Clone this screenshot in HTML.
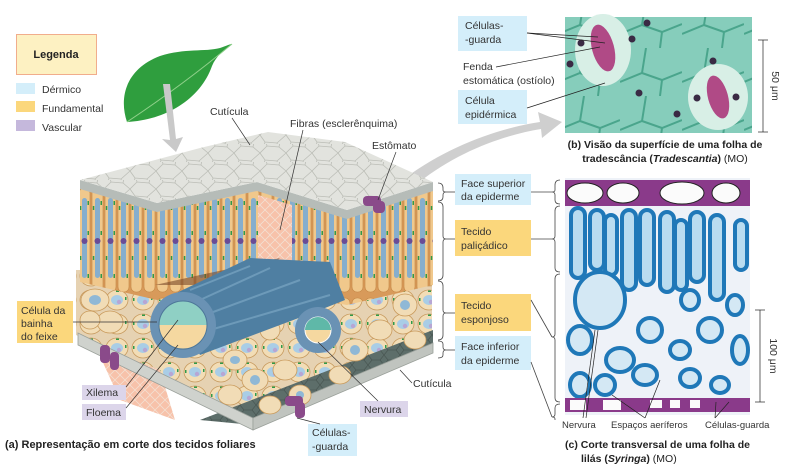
<!DOCTYPE html>
<html><head><meta charset="utf-8"><style>
html,body{margin:0;padding:0;background:#fff;}
svg{display:block;font-family:"Liberation Sans",sans-serif;}
</style></head><body>
<svg width="800" height="471" viewBox="0 0 800 471" xmlns="http://www.w3.org/2000/svg">
<defs>
<pattern id="cells" width="26" height="18" patternUnits="userSpaceOnUse">
<rect width="26" height="18" fill="#e2e3de"/>
<path d="M0 9 L7 2 L19 3 L26 9 M7 2 L6 -2 M19 3 L20 -2 M0 9 L5 16 L17 17 L26 9 M5 16 L4 20 M17 17 L18 20" stroke="#bcbeb7" stroke-width="0.8" fill="none"/>
</pattern>
<pattern id="pali" x="0" y="186" width="13" height="110" patternUnits="userSpaceOnUse">
<rect width="13" height="110" fill="#d89a5a"/>
<rect x="1" y="2" width="11" height="104" rx="5" fill="#f0c88c" stroke="#c38442" stroke-width="0.6"/>
<rect x="4" y="12" width="5" height="80" rx="2.5" fill="#86aecd"/>
<circle cx="6.5" cy="55" r="3" fill="#6a4c96"/>
<rect x="1.8" y="20" width="1.5" height="4" fill="#2f9a4a"/><rect x="9.5" y="45" width="1.5" height="4" fill="#2f9a4a"/><rect x="9.5" y="15" width="1.5" height="4" fill="#2f9a4a"/><rect x="1.8" y="70" width="1.5" height="4" fill="#2f9a4a"/><rect x="9.5" y="88" width="1.5" height="4" fill="#2f9a4a"/>
</pattern>
<pattern id="spong" width="26" height="24" patternUnits="userSpaceOnUse">
<rect width="26" height="24" fill="#e6d2b2"/>
<ellipse cx="13" cy="12" rx="11" ry="10" fill="#f2ddb6" stroke="#c79a5e" stroke-width="0.8"/>
<ellipse cx="13" cy="12" rx="6" ry="5" fill="#a9cde6"/>
<circle cx="15" cy="14" r="2.2" fill="#b7a6d4"/>
<rect x="3" y="10" width="1.5" height="3" fill="#2f9a4a"/><rect x="21" y="9" width="1.5" height="3" fill="#2f9a4a"/><rect x="12" y="2.5" width="3" height="1.5" fill="#2f9a4a"/>
</pattern>
<pattern id="lowep" width="16" height="10" patternUnits="userSpaceOnUse">
<rect width="16" height="10" fill="#5d6e6a"/>
<path d="M0 5 L4 0 L12 0 L16 5 L12 10 L4 10 Z" fill="none" stroke="#4a5854" stroke-width="0.8"/>
</pattern>
<pattern id="fib" width="10" height="10" patternUnits="userSpaceOnUse">
<rect width="10" height="10" fill="#f7c2aa"/>
<path d="M0 5 L5 0 L10 5 L5 10 Z" fill="none" stroke="#f4e0d2" stroke-width="0.8"/>
</pattern>
<pattern id="mb" width="62" height="48" patternUnits="userSpaceOnUse">
<rect width="62" height="48" fill="#86cdbb"/>
<path d="M0 34 L22 25 L42 32 L62 24 M22 25 L26 0 M42 32 L40 48" stroke="#4aa58c" stroke-width="2" fill="none"/>
</pattern>
</defs>

<rect x="16.5" y="34.5" width="80" height="40" fill="#fdf1c2" stroke="#f1ad8c" stroke-width="1"/>
<text x="56" y="58" font-size="11" font-weight="bold" text-anchor="middle" fill="#222">Legenda</text>
<rect x="16" y="83" width="19" height="11" fill="#d4eefa"/>
<rect x="16" y="101" width="19" height="11" fill="#fbd77c"/>
<rect x="16" y="120" width="19" height="11" fill="#c5b8dc"/>
<text x="42" y="93" font-size="10.5" fill="#333">Dérmico</text>
<text x="42" y="112" font-size="10.5" fill="#333">Fundamental</text>
<text x="42" y="131" font-size="10.5" fill="#333">Vascular</text>

<path d="M127 122 C118 95 128 68 160 56 C185 48 205 52 220 48 C226 46 230 44 232 44 C224 50 216 56 212 66 C200 100 165 120 127 122 Z" fill="#2f9e3e"/>
<path d="M127 122 C160 100 195 75 232 44" stroke="#8fd08a" stroke-width="1" fill="none"/>
<path d="M163 84 L170 140 L162 139 L176 152 L183 137 L176 139 L170 84 Z" fill="#c9c9c9"/>
<path d="M405 178 C450 145 500 128 540 122 L538 112 L562 122 L542 138 L541 129 C505 135 460 150 418 183 Z" fill="#cfcfcf"/>

<polygon points="76,270 432,270 432,345 253,418 76,335" fill="url(#spong)"/>
<polygon points="80,186 157,206 257,188 257,282 157,300 80,282" fill="url(#pali)"/>
<polygon points="257,190 347,216 433,190 433,285 347,305 257,290" fill="url(#pali)"/>
<polygon points="258,195 292,205 292,265 258,260" fill="url(#fib)"/>
<polygon points="95,345 160,370 175,420 120,400" fill="url(#fib)"/>
<path d="M155 285 L200 275 L280 258 L250 285 Z" fill="#7a4a2a" opacity="0.6"/>
<polygon points="200,420 433,330 433,348 253,425" fill="url(#lowep)"/>
<polygon points="78,333 253,418 253,430 78,345" fill="#cfd2cd" stroke="#9aa09a" stroke-width="0.8"/>
<polygon points="253,418 433,343 433,353 253,430" fill="#c0c4bf" stroke="#9aa09a" stroke-width="0.8"/>
<g fill="#f1dcb6" stroke="#c99a5c" stroke-width="0.8">
<ellipse cx="95" cy="300" rx="14" ry="11"/><ellipse cx="110" cy="322" rx="13" ry="11"/><ellipse cx="90" cy="320" rx="10" ry="9"/>
<ellipse cx="235" cy="360" rx="12" ry="10"/><ellipse cx="255" cy="380" rx="13" ry="11"/><ellipse cx="230" cy="395" rx="12" ry="10"/>
<ellipse cx="270" cy="405" rx="11" ry="9"/><ellipse cx="285" cy="370" rx="12" ry="10"/><ellipse cx="300" cy="395" rx="11" ry="10"/>
<ellipse cx="355" cy="350" rx="13" ry="11"/><ellipse cx="380" cy="330" rx="12" ry="10"/><ellipse cx="405" cy="305" rx="12" ry="11"/>
<ellipse cx="415" cy="340" rx="11" ry="9"/><ellipse cx="340" cy="375" rx="11" ry="9"/><ellipse cx="270" cy="330" rx="10" ry="10"/>
</g>
<g fill="#8fb8d6"><ellipse cx="235" cy="360" rx="5" ry="4"/><ellipse cx="255" cy="380" rx="5" ry="5"/><ellipse cx="355" cy="350" rx="5" ry="5"/><ellipse cx="405" cy="305" rx="5" ry="5"/><ellipse cx="95" cy="300" rx="6" ry="5"/><ellipse cx="300" cy="395" rx="4" ry="4"/></g>
<path d="M168 297 L250 258 L330 262 L345 300 L320 310 L200 355 Z" fill="#4f7fa2"/>
<path d="M200 300 L270 268 M205 315 L300 280 M210 330 L330 295 M190 290 L250 266" stroke="#6d9ab9" stroke-width="2" fill="none"/>
<circle cx="183" cy="325" r="33" fill="#6a92b4"/>
<circle cx="183" cy="325" r="24" fill="#f5d8a0"/>
<path d="M159 325 A24 24 0 0 1 207 325 Z" fill="#8fd0c4"/>
<circle cx="183" cy="325" r="24" fill="none" stroke="#4d7799" stroke-width="1"/>
<circle cx="318" cy="330" r="23" fill="#6a92b4"/>
<circle cx="318" cy="330" r="13" fill="#f5d8a0" stroke="#fff" stroke-width="1"/>
<path d="M305 330 A13 13 0 0 1 331 330 Z" fill="#5fb8a8"/>
<polygon points="80,180 157,203 257,182 257,191 157,212 80,189" fill="#b6bcb8"/>
<polygon points="257,182 347,210 433,182 433,191 347,219 257,191" fill="#b6bcb8"/>
<polygon points="80,180 200,148 268,132 345,142 433,182 347,210 257,182 157,203" fill="url(#cells)"/>
<g fill="#8a4a8a"><rect x="363" y="196" width="18" height="10" rx="4"/><rect x="373" y="201" width="12" height="12" rx="4"/>
<rect x="100" y="345" width="10" height="18" rx="4"/><rect x="110" y="352" width="9" height="18" rx="4"/>
<rect x="285" y="396" width="18" height="10" rx="4"/><rect x="295" y="402" width="10" height="16" rx="4"/></g>

<text x="210" y="115" font-size="10.5" fill="#333">Cutícula</text>
<line x1="232" y1="118" x2="250" y2="145" stroke="#333" stroke-width="0.7"/>
<text x="290" y="127" font-size="10.5" fill="#333">Fibras (esclerênquima)</text>
<line x1="303" y1="130" x2="280" y2="230" stroke="#333" stroke-width="0.7"/>
<text x="372" y="149" font-size="10.5" fill="#333">Estômato</text>
<line x1="396" y1="152" x2="378" y2="200" stroke="#333" stroke-width="0.7"/>

<rect x="17" y="301" width="56" height="42" fill="#fbd77c"/>
<text font-size="10.5" fill="#333"><tspan x="21" y="314">Célula da</tspan><tspan x="21" y="327">bainha</tspan><tspan x="21" y="340">do feixe</tspan></text>
<line x1="73" y1="322" x2="157" y2="322" stroke="#333" stroke-width="0.7"/>
<rect x="82" y="385" width="44" height="15" fill="#dcd5ea"/>
<text x="86" y="396" font-size="10.5" fill="#333">Xilema</text>
<rect x="82" y="404" width="44" height="16" fill="#dcd5ea"/>
<text x="86" y="416" font-size="10.5" fill="#333">Floema</text>
<line x1="126" y1="387" x2="178" y2="320" stroke="#333" stroke-width="0.7"/>
<line x1="126" y1="408" x2="178" y2="345" stroke="#333" stroke-width="0.7"/>
<rect x="360" y="401" width="48" height="16" fill="#dcd5ea"/>
<text x="364" y="413" font-size="10.5" fill="#333">Nervura</text>
<line x1="378" y1="401" x2="318" y2="342" stroke="#333" stroke-width="0.7"/>
<rect x="308" y="424" width="49" height="32" fill="#d4eefa"/>
<text font-size="10.5" fill="#333"><tspan x="312" y="436">Células-</tspan><tspan x="312" y="450">-guarda</tspan></text>
<line x1="297" y1="418" x2="320" y2="424" stroke="#333" stroke-width="0.7"/>
<text x="413" y="387" font-size="10.5" fill="#333">Cutícula</text>
<line x1="412" y1="383" x2="400" y2="370" stroke="#333" stroke-width="0.7"/>
<text x="5" y="448" font-size="11" font-weight="bold" fill="#222">(a) Representação em corte dos tecidos foliares</text>

<rect x="455" y="174" width="76" height="31" fill="#d4eefa"/>
<text font-size="10.5" fill="#333"><tspan x="461" y="187">Face superior</tspan><tspan x="461" y="200">da epiderme</tspan></text>
<rect x="455" y="220" width="76" height="36" fill="#fbd77c"/>
<text font-size="10.5" fill="#333"><tspan x="461" y="235">Tecido</tspan><tspan x="461" y="249">paliçádico</tspan></text>
<rect x="455" y="294" width="76" height="37" fill="#fbd77c"/>
<text font-size="10.5" fill="#333"><tspan x="461" y="309">Tecido</tspan><tspan x="461" y="323">esponjoso</tspan></text>
<rect x="455" y="336" width="76" height="34" fill="#d4eefa"/>
<text font-size="10.5" fill="#333"><tspan x="461" y="350">Face inferior</tspan><tspan x="461" y="364">da epiderme</tspan></text>
<g stroke="#444" stroke-width="0.8" fill="none">
<path d="M438 183 Q443 183 443 188 L443 190 Q443 192 446 192 Q443 192 443 195 L443 197 Q443 201 438 201"/>
<path d="M438 202 Q443 202 443 207 L443 236 Q443 239 446 239 Q443 239 443 242 L443 275 Q443 280 438 280"/>
<path d="M438 281 Q443 281 443 286 L443 310 Q443 313 446 313 Q443 313 443 316 L443 335 Q443 340 438 340"/>
<path d="M438 341 Q443 341 443 344 L443 347 Q443 350 446 350 Q443 350 443 353 L443 355 Q443 358 438 358"/>
<line x1="446" y1="192" x2="455" y2="192"/><line x1="446" y1="239" x2="455" y2="239"/><line x1="446" y1="313" x2="455" y2="313"/><line x1="446" y1="350" x2="455" y2="350"/>
<path d="M560 180 Q555 180 555 185 L555 190 Q555 192 552 192 Q555 192 555 195 L555 200 Q555 204 560 204"/>
<path d="M560 206 Q555 206 555 211 L555 236 Q555 239 552 239 Q555 239 555 242 L555 268 Q555 272 560 272"/>
<path d="M560 274 Q555 274 555 279 L555 334 Q555 337 552 337 Q555 337 555 340 L555 398 Q555 402 560 402"/>
<path d="M560 404 Q555 404 555 408 L555 414 Q555 417 552 417 Q555 417 555 419 L555 420"/>
<line x1="531" y1="192" x2="552" y2="192"/><line x1="531" y1="239" x2="552" y2="239"/>
<line x1="531" y1="300" x2="552" y2="337"/><line x1="531" y1="362" x2="552" y2="417"/>
</g>

<rect x="565" y="17" width="187" height="116" fill="url(#mb)"/>
<ellipse cx="603" cy="50" rx="28" ry="36" fill="#d8efe6"/>
<ellipse cx="603" cy="48" rx="11" ry="24" fill="#b04a86" transform="rotate(-15 603 48)"/>
<ellipse cx="718" cy="97" rx="30" ry="33" fill="#d8efe6"/>
<ellipse cx="718" cy="97" rx="10" ry="22" fill="#b04a86" transform="rotate(-15 718 97)"/>
<g fill="#3a2a44"><circle cx="581" cy="43" r="3.5"/><circle cx="632" cy="39" r="3.5"/><circle cx="647" cy="23" r="3.5"/><circle cx="570" cy="64" r="3.5"/><circle cx="639" cy="93" r="3.5"/><circle cx="713" cy="61" r="3.5"/><circle cx="697" cy="98" r="3.5"/><circle cx="736" cy="97" r="3.5"/><circle cx="677" cy="114" r="3.5"/></g>
<rect x="458" y="16" width="69" height="35" fill="#d4eefa"/>
<text font-size="10.5" fill="#333"><tspan x="465" y="29">Células-</tspan><tspan x="465" y="43">-guarda</tspan></text>
<text font-size="10.5" fill="#333"><tspan x="463" y="70">Fenda</tspan><tspan x="463" y="84">estomática (ostíolo)</tspan></text>
<rect x="458" y="90" width="69" height="34" fill="#d4eefa"/>
<text font-size="10.5" fill="#333"><tspan x="465" y="104">Célula</tspan><tspan x="465" y="118">epidérmica</tspan></text>
<g stroke="#222" stroke-width="0.7" fill="none"><line x1="527" y1="33" x2="598" y2="37"/><line x1="527" y1="33" x2="605" y2="43"/><line x1="496" y1="67" x2="600" y2="47"/><line x1="527" y1="108" x2="605" y2="83"/>
<line x1="763" y1="40" x2="763" y2="132"/><line x1="758" y1="40" x2="768" y2="40"/><line x1="758" y1="132" x2="768" y2="132"/>
<line x1="760" y1="310" x2="760" y2="402"/><line x1="755" y1="310" x2="765" y2="310"/><line x1="755" y1="402" x2="765" y2="402"/></g>
<text x="772" y="86" font-size="10.5" fill="#333" transform="rotate(90 772 86)" text-anchor="middle">50 μm</text>
<text x="770" y="356" font-size="10.5" fill="#333" transform="rotate(90 770 356)" text-anchor="middle">100 μm</text>
<text x="665" y="148" font-size="10.5" font-weight="bold" fill="#222" text-anchor="middle">(b) Visão da superfície de uma folha de</text>
<text x="665" y="162" font-size="10.5" font-weight="bold" fill="#222" text-anchor="middle">tradescância (<tspan font-style="italic">Tradescantia</tspan>) <tspan font-weight="normal">(MO)</tspan></text>

<rect x="565" y="178" width="185" height="237" fill="#eef2f8"/>
<rect x="565" y="180" width="185" height="26" fill="#8a3a8a"/>
<g fill="#fbfbfb" stroke="#222" stroke-width="1"><ellipse cx="585" cy="193" rx="18" ry="10"/><ellipse cx="623" cy="193" rx="16" ry="10"/><ellipse cx="682" cy="193" rx="22" ry="11"/><ellipse cx="726" cy="193" rx="14" ry="10"/></g>
<g fill="#b9dcf0" stroke="#1f78b8" stroke-width="4">
<rect x="571" y="208" width="14" height="70" rx="7"/><rect x="590" y="210" width="14" height="60" rx="7"/><rect x="622" y="210" width="14" height="80" rx="7"/><rect x="640" y="210" width="14" height="75" rx="7"/><rect x="660" y="212" width="14" height="80" rx="7"/><rect x="690" y="212" width="14" height="70" rx="7"/><rect x="710" y="215" width="14" height="85" rx="7"/><rect x="735" y="220" width="12" height="50" rx="6"/>
<rect x="605" y="215" width="12" height="60" rx="6"/><rect x="675" y="220" width="12" height="70" rx="6"/>
</g>
<g fill="#d4e8f4" stroke="#1f78b8" stroke-width="4">
<ellipse cx="600" cy="300" rx="25" ry="28"/><ellipse cx="580" cy="340" rx="12" ry="14"/><ellipse cx="620" cy="360" rx="14" ry="12"/><ellipse cx="650" cy="330" rx="12" ry="12"/><ellipse cx="680" cy="350" rx="10" ry="9"/><ellipse cx="710" cy="330" rx="12" ry="12"/><ellipse cx="740" cy="350" rx="8" ry="14"/><ellipse cx="645" cy="375" rx="12" ry="10"/><ellipse cx="690" cy="378" rx="10" ry="9"/><ellipse cx="580" cy="385" rx="10" ry="12"/><ellipse cx="605" cy="385" rx="10" ry="10"/><ellipse cx="720" cy="385" rx="9" ry="8"/>
<ellipse cx="735" cy="305" rx="8" ry="10"/><ellipse cx="690" cy="300" rx="9" ry="10"/>
</g>
<rect x="565" y="398" width="185" height="14" fill="#8a3a8a"/>
<g fill="#fbfbfb"><rect x="570" y="400" width="16" height="10"/><rect x="603" y="400" width="18" height="10"/><rect x="650" y="400" width="12" height="8"/><rect x="670" y="400" width="10" height="8"/><rect x="690" y="400" width="10" height="8"/></g>
<g stroke="#222" stroke-width="0.7"><line x1="583" y1="418" x2="595" y2="330"/><line x1="586" y1="418" x2="598" y2="330"/><line x1="645" y1="418" x2="612" y2="395"/><line x1="645" y1="418" x2="660" y2="380"/><line x1="715" y1="418" x2="716" y2="402"/><line x1="715" y1="418" x2="729" y2="402"/></g>
<text x="562" y="428" font-size="9.5" fill="#333">Nervura</text>
<text x="611" y="428" font-size="9.5" fill="#333">Espaços aeríferos</text>
<text x="705" y="428" font-size="9.5" fill="#333">Células-guarda</text>
<text x="565" y="448" font-size="10.5" font-weight="bold" fill="#222">(c) Corte transversal de uma folha de</text>
<text x="581" y="462" font-size="10.5" font-weight="bold" fill="#222">lilás (<tspan font-style="italic">Syringa</tspan>) <tspan font-weight="normal">(MO)</tspan></text>
</svg>
</body></html>
